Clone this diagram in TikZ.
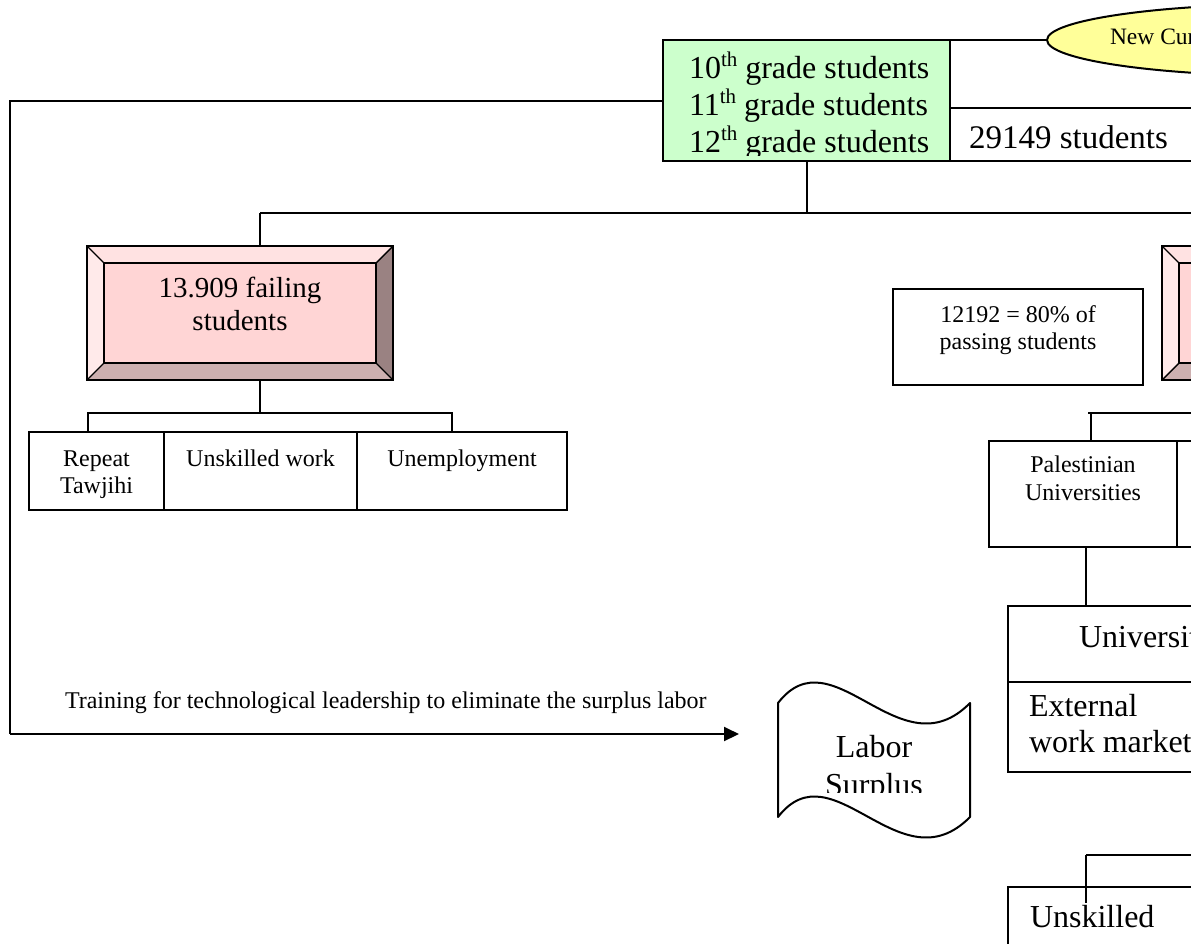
\documentclass[tikz,border=0pt]{standalone}
\usepackage{fontspec}
\setmainfont{Liberation Serif}
\usetikzlibrary{arrows.meta,calc,shapes.geometric}

\definecolor{gradegreen}{HTML}{CCFFCC}
\definecolor{curyellow}{HTML}{FFFF99}
\definecolor{bevface}{HTML}{FFD5D5}
\definecolor{bevtop}{HTML}{FFE2E2}
\definecolor{bevleft}{HTML}{FFEAEA}
\definecolor{bevright}{HTML}{9A8282}
\definecolor{bevbottom}{HTML}{CDB0B0}

\newcommand\bigtxt{\fontsize{32}{37}\selectfont}
\newcommand\midtxt{\fontsize{29}{33}\selectfont}
\newcommand\smalltxt{\fontsize{24}{27}\selectfont}
\newcommand\ordsup[1]{\raisebox{12pt}{\fontsize{21}{21}\selectfont #1}}

% faces of a bevelled button drawn on the frame of node #1, bevel depth #2
\newcommand\bevelfaces[2]{%
  \fill[bevface] (#1.north west) rectangle (#1.south east);
  \fill[bevtop] (#1.north west) -- (#1.north east) -- ($(#1.north east)+(-#2,#2)$) -- ($(#1.north west)+(#2,#2)$) -- cycle;
  \fill[bevleft] (#1.north west) -- ($(#1.north west)+(#2,#2)$) -- ($(#1.south west)+(#2,-#2)$) -- (#1.south west) -- cycle;
  \fill[bevright] (#1.north east) -- ($(#1.north east)+(-#2,#2)$) -- ($(#1.south east)+(-#2,-#2)$) -- (#1.south east) -- cycle;
  \fill[bevbottom] (#1.south west) -- ($(#1.south west)+(#2,-#2)$) -- ($(#1.south east)+(-#2,-#2)$) -- (#1.south east) -- cycle;
  \draw[thin line] ($(#1.north west)+(#2,#2)$) rectangle ($(#1.south east)+(-#2,-#2)$);
  \draw[thin line] (#1.north west) -- ($(#1.north west)+(#2,#2)$);
  \draw[thin line] (#1.north east) -- ($(#1.north east)+(-#2,#2)$);
  \draw[thin line] (#1.south west) -- ($(#1.south west)+(#2,-#2)$);
  \draw[thin line] (#1.south east) -- ($(#1.south east)+(-#2,-#2)$);
  \draw[line width=2pt] (#1.north west) rectangle (#1.south east);
}

\tikzset{
  frame/.style={draw, line width=2pt, inner sep=0pt, outer sep=0pt},
  bevelnode/.style={inner sep=0pt, outer sep=0pt},
  thin line/.style={line width=1.4pt},
  link/.style={line width=2pt},
  txt/.style={inner sep=0pt, outer sep=0pt},
  arrowlink/.style={link, -{Triangle[length=15pt,width=14pt]}},
}

\begin{document}
\begin{tikzpicture}[x=1pt, y=-1pt]
\useasboundingbox (0,0) rectangle (1191,943);
\clip (0,0) rectangle (1191,943);

% ---- grade students and total count ----
\node[frame, fill=gradegreen, minimum width=287, minimum height=121] (grades) at (806.5,100.5) {};
\begin{scope}
  \clip (663,40) rectangle (950,155);
  \node[txt, anchor=base west] (g10) at (689,78) {\bigtxt 10\ordsup{th} grade students};
  \node[txt, anchor=base west] (g11) at (689,115) {\bigtxt 11\ordsup{th} grade students};
  \node[txt, anchor=base west] (g12) at (689,152) {\bigtxt 12\ordsup{th} grade students};
\end{scope}

\node[frame, minimum width=400, minimum height=53, anchor=north west] (total) at (950,108) {};
\node[txt, anchor=base west] (totaltxt) at (969,148) {\fontsize{33}{38}\selectfont 29149 students};

\node[ellipse, frame, fill=curyellow, minimum width=496, minimum height=72] (curr) at (1295,40) {};
\node[txt, anchor=base west] (currtxt) at (1110,44) {\fontsize{23.5}{26}\selectfont New Curriculum};
\draw[link] (grades.north east) -- (curr.west);

% ---- loop back to the labor surplus ----
\coordinate (loopcorner) at (10,734);
\coordinate (loopend) at (739,734);
\draw[link] (grades.west) -| (loopcorner);
\draw[arrowlink] (loopcorner) -- (loopend);
\node[txt, anchor=base west] (trainlbl) at (65,708) {\smalltxt Training for technological leadership to eliminate the surplus labor};

% ---- split into failing / passing ----
\coordinate (busL) at (260,213);
\coordinate (busR) at (1200,213);
\draw[link] (grades.south) -- (grades.south |- busL);
\draw[link] (busL) -- (busR);

\node[bevelnode, minimum width=306, minimum height=134] (fail) at (240,313) {};
\bevelfaces{fail}{17}
\node[txt, anchor=base] (failtxt1) at (240,297) {\midtxt 13.909 failing};
\node[txt, anchor=base] (failtxt2) at (240,330) {\midtxt students};
\draw[link] (busL) -- (busL |- fail.north);

\node[bevelnode, minimum width=306, minimum height=134, anchor=north west] (pass) at (1162,246) {};
\bevelfaces{pass}{17}

% ---- outcomes of failing students ----
\coordinate (failbus) at (260,413);
\coordinate (fbusL) at (88,413);
\coordinate (fbusR) at (452,413);
\draw[link] (fail.south -| failbus) -- (failbus);

\node[frame, minimum width=135, minimum height=78] (repeat) at (96.5,471) {};
\node[frame, minimum width=193, minimum height=78] (unskw) at (260.5,471) {};
\node[frame, minimum width=210, minimum height=78] (unemp) at (462,471) {};
\draw[link] (fbusL |- repeat.north) -- (fbusL) -- (fbusR) -- (fbusR |- unemp.north);

\node[txt, anchor=base] (repeattxt1) at (96.5,466) {\smalltxt Repeat};
\node[txt, anchor=base] (repeattxt2) at (96.5,493) {\smalltxt Tawjihi};
\node[txt, anchor=base] (unskwtxt) at (260.5,466) {\smalltxt Unskilled work};
\node[txt, anchor=base] (unemptxt) at (462,466) {\smalltxt Unemployment};

% ---- passing students ----
\node[frame, minimum width=250, minimum height=96] (share) at (1018,337) {};
\node[txt, anchor=base] (sharetxt1) at (1018,322) {\smalltxt 12192 = 80\% of};
\node[txt, anchor=base] (sharetxt2) at (1018,349) {\smalltxt passing students};

\coordinate (pbusL) at (1088,413);
\coordinate (pbusR) at (1200,413);
\coordinate (ptick) at (1091,413);
\draw[link] (pbusL) -- (pbusR);

\node[frame, minimum width=188, minimum height=106] (paluni) at (1083,494) {};
\node[frame, minimum width=188, minimum height=106, anchor=north west] (palnext) at (paluni.north east) {};
\draw[link] (ptick) -- (ptick |- paluni.north);
\node[txt, anchor=base] (palunitxt1) at (1083,472) {\smalltxt Palestinian};
\node[txt, anchor=base] (palunitxt2) at (1083,500) {\smalltxt Universities};

\node[frame, minimum width=400, minimum height=166, anchor=north west] (univ) at (1008,606) {};
\draw[link] ($(univ.north west)+(0,76)$) -- ($(univ.north east)+(0,76)$);
\coordinate (palstem) at (1086,547);
\draw[link] (palstem) -- (palstem |- univ.north);
\node[txt, anchor=base west] (univtxt) at (1079,647) {\bigtxt Universities};
\node[txt, anchor=base west] (exttxt1) at (1029,716) {\bigtxt External};
\node[txt, anchor=base west] (exttxt2) at (1029,752) {\bigtxt work market};

% ---- labor surplus (wavy document shape) ----
\draw[link, line join=round]
  (778,703) .. controls (833,632) and (900,774) .. (970,703)
  -- (970,817) .. controls (900,888) and (833,746) .. (778,817) -- cycle;
\begin{scope}
  \clip (778,700) rectangle (970,792);
  \node[txt, anchor=base] (labortxt1) at (874,757) {\bigtxt Labor};
  \node[txt, anchor=base] (labortxt2) at (874,795) {\bigtxt Surplus};
\end{scope}

% ---- unskilled branch ----
\node[frame, minimum width=400, minimum height=200, anchor=north west] (unsk) at (1008,887) {};
\coordinate (lowstem) at (1086,855);
\coordinate (lowR) at (1200,855);
\coordinate (lowtip) at (1086,903);
\draw[link] (lowstem) -- (lowR);
\draw[link] (lowstem) -- (lowtip);
\node[txt, anchor=base west] (unsktxt) at (1030,927) {\bigtxt Unskilled};

\end{tikzpicture}
\end{document}
